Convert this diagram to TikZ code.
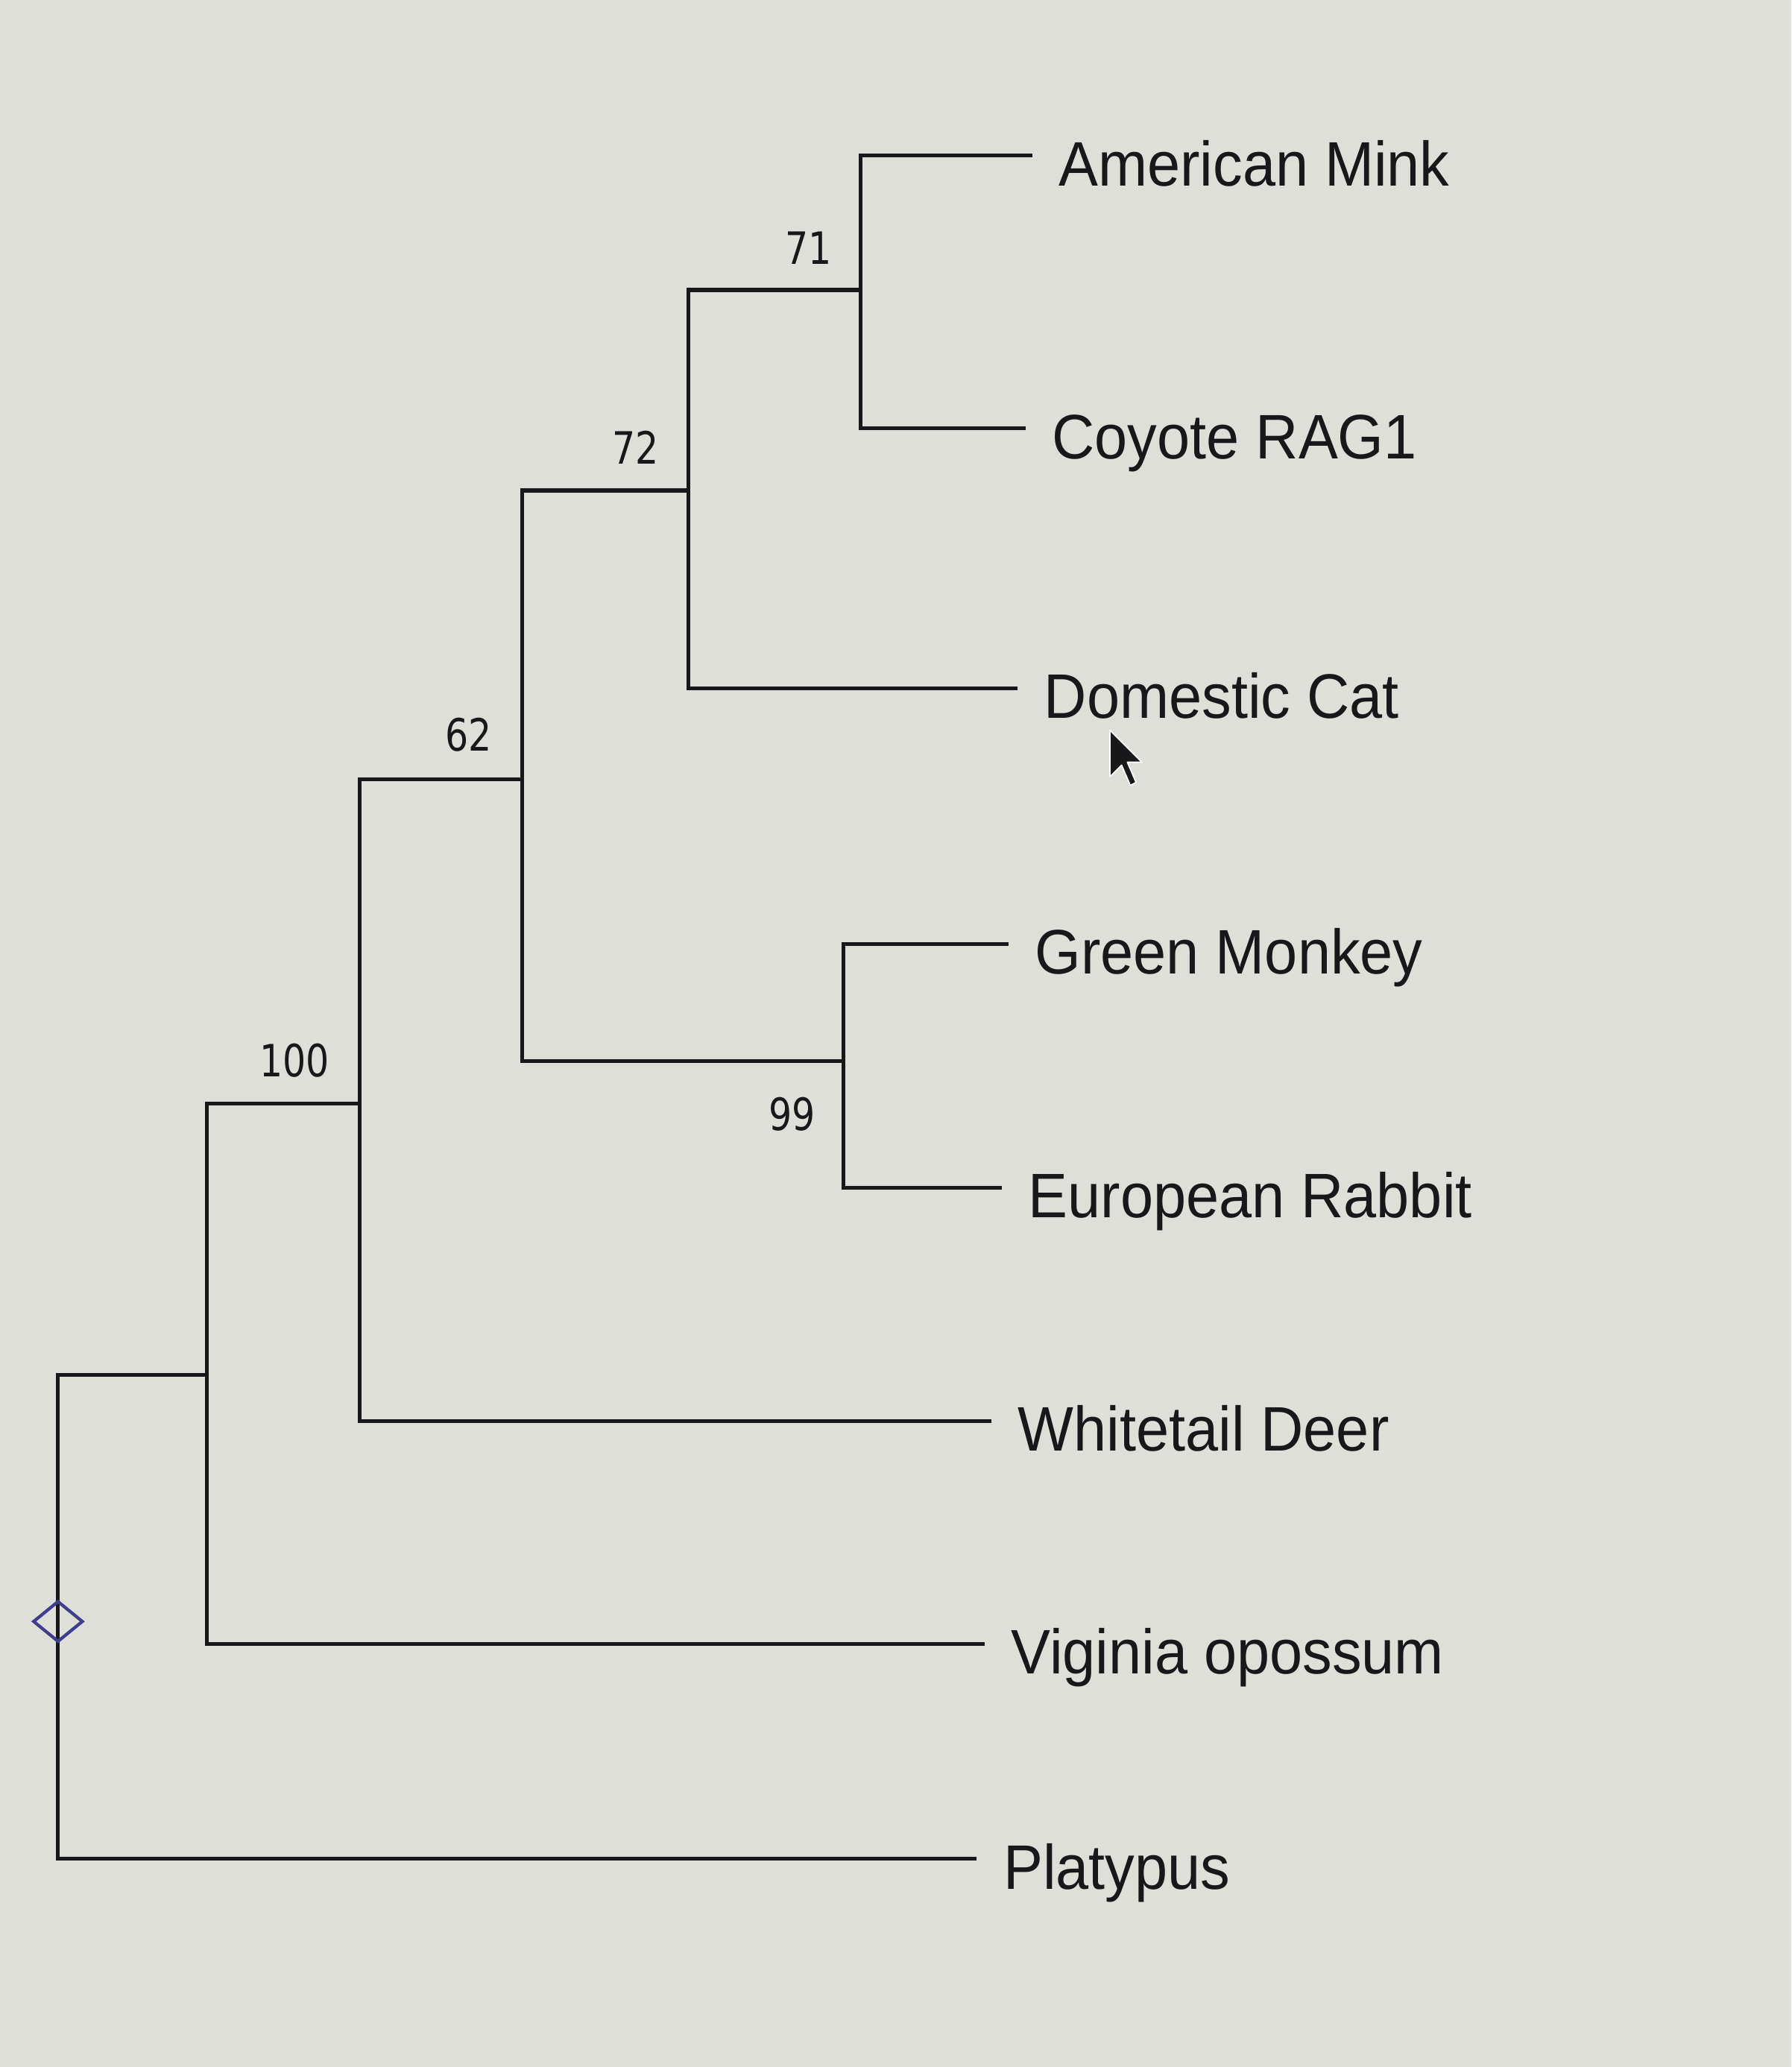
\documentclass[tikz,border=0pt]{standalone}
\usepackage{fontspec}
\setmainfont[FakeStretch=0.94]{Liberation Sans}
\newfontfamily\bootfont[FakeStretch=0.82]{DejaVu Sans}
\usetikzlibrary{positioning,shapes.geometric}

\definecolor{screen}{RGB}{221,223,216}
\definecolor{ink}{RGB}{24,24,26}
\definecolor{rootblue}{RGB}{62,62,140}

\tikzset{
  branch/.style={draw=ink, line width=1.5pt},
  taxon/.style={anchor=west, inner xsep=0.35cm, inner ysep=0pt, text height=23pt, text depth=0pt,
    text=ink, font=\fontsize{24}{28}\selectfont},
  boot/.style={inner sep=0pt, text=ink, font=\bootfont\fontsize{17}{20}\selectfont},
  rootmark/.style={draw=rootblue, line width=1.2pt, diamond, inner sep=0pt,
    minimum width=0.67cm, minimum height=0.55cm},
  pointer/.style={fill=ink, draw=white, line width=0.5pt, line join=round}
}

\begin{document}
\begin{tikzpicture}[x=0.01769cm, y=-0.01769cm]
    % screen background
    \fill[screen] (0,0) rectangle (1359,1568);
    \useasboundingbox (0,0) rectangle (1359,1568);

    % Taxa
    \node[taxon] (mink) at (783,118) {American Mink};
    \node[taxon] (coyote) at (778,325) {Coyote RAG1};
    \node[taxon] (cat) at (772,522) {Domestic Cat};
    \node[taxon] (monkey) at (765,716) {Green Monkey};
    \node[taxon] (rabbit) at (760,901) {European Rabbit};
    \node[taxon] (deer) at (752,1078) {Whitetail Deer};
    \node[taxon] (opossum) at (747,1247) {Viginia opossum};
    \node[taxon] (platypus) at (741,1410) {Platypus};

    % Internal nodes
    \coordinate (n71) at (653,220);
    \coordinate (n72) at (522,372);
    \coordinate (n62) at (396,591);
    \coordinate (n99) at (640,805);
    \coordinate (n100) at (273,837);
    \coordinate (nmam) at (157,1043);
    \coordinate (root) at (44,1230);

    % Branches
    \draw[branch] (mink.west) -| (n71) |- (coyote.west);
    \draw[branch] (n71) -| (n72) |- (cat.west);
    \draw[branch] (n72) -| (n62) |- (n99);
    \draw[branch] (monkey.west) -| (n99) |- (rabbit.west);
    \draw[branch] (n62) -| (n100) |- (deer.west);
    \draw[branch] (n100) -| (nmam) |- (opossum.west);
    \draw[branch] (nmam) -| (root) |- (platypus.west);

    % Bootstrap values
    \node[boot, above left=0.34cm and 0.38cm of n71] (b71) {71};
    \node[boot, above left=0.35cm and 0.39cm of n72] (b72) {72};
    \node[boot, above left=0.36cm and 0.40cm of n62] (b62) {62};
    \node[boot, below left=0.48cm and 0.37cm of n99] (b99) {99};
    \node[boot, above left=0.34cm and 0.40cm of n100] (b100) {100};

    % Root marker
    \node[rootmark] (rootdot) at (root) {};

    % Mouse pointer
    \filldraw[pointer, shift={(842,554)}, scale=2.2]
      (0,0) -- (0,16) -- (4,12) -- (7,19) -- (9,18) -- (6,11) -- (11,11) -- cycle;
\end{tikzpicture}
\end{document}
